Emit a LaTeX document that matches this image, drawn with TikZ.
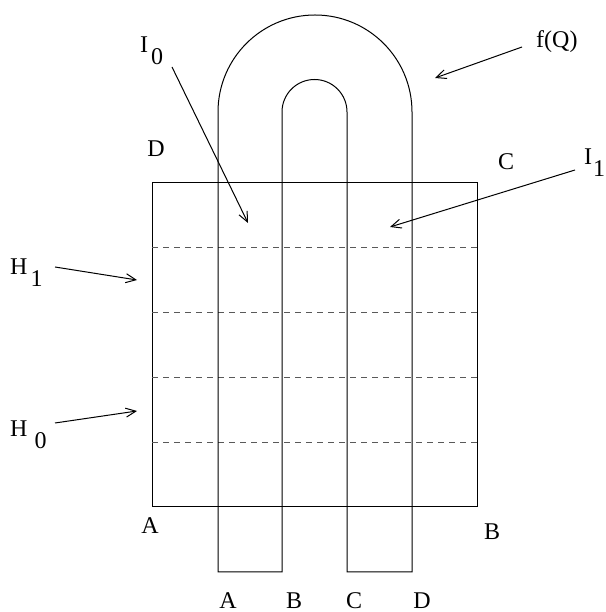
\documentclass[tikz,border=0pt]{standalone}
\usepackage{fontspec}
\setmainfont{Liberation Serif}
\usetikzlibrary{arrows.meta}
\begin{document}
\begin{tikzpicture}[x=1pt,y=1pt,
  lbl/.style={inner sep=0pt,font=\fontsize{24}{28}\selectfont},
  outl/.style={line width=1pt},
  gridln/.style={line width=0.9pt,draw=black!65,dash pattern=on 6pt off 5pt},
  ptr/.style={line width=1pt,-{Straight Barb[length=10pt,width=9pt,line width=1pt]}}]
\useasboundingbox (0,0) rectangle (605,612);
% square
\draw[outl] (152,105) rectangle (477,429);
% dashed lines
\foreach \y in {364.2,299.4,234.6,169.8}
  \draw[gridln] (152,\y) -- (477,\y);
% strip
\draw[outl] (218,40) -- (218,500) arc[start angle=180,end angle=0,radius=97]
  -- (412,40) -- (347,40) -- (347,500) arc[start angle=0,end angle=180,radius=32.5]
  -- (282,40) -- cycle;
% labels
\node[lbl,anchor=base west] (I0) at (140,559) {I\kern3pt\raisebox{-12pt}{0}};
\node[lbl,anchor=base west] (I1) at (584,447) {I\kern1pt\raisebox{-12pt}{1}};
\node[lbl,anchor=base west] (H1) at (10,337) {H\kern3pt\raisebox{-12pt}{1}};
\node[lbl,anchor=base west] (H0) at (10,175) {H\kern7pt\raisebox{-12pt}{0}};
\node[lbl,anchor=base west] (fQ) at (536,564) {f(Q)};
\node[lbl,anchor=base] (Dl) at (156,455) {D};
\node[lbl,anchor=base] (Cl) at (506,442) {C};
\node[lbl,anchor=base] (Al) at (150,78) {A};
\node[lbl,anchor=base] (Bl) at (492,72) {B};
\node[lbl,anchor=base] (Ab) at (228,4) {A};
\node[lbl,anchor=base] (Bb) at (294,4) {B};
\node[lbl,anchor=base] (Cb) at (354,4) {C};
\node[lbl,anchor=base] (Db) at (422,4) {D};
% arrow ends
\coordinate (i0t) at (172,545);
\coordinate (i0h) at (248,389);
\coordinate (i1t) at (575,442);
\coordinate (i1h) at (390,385);
\coordinate (h1t) at (55,345);
\coordinate (h1h) at (137,332);
\coordinate (h0t) at (55,189);
\coordinate (h0h) at (137,201);
\coordinate (fqt) at (522,565);
\coordinate (fqh) at (435,534);
\draw[ptr] (i0t) -- (i0h);
\draw[ptr] (i1t) -- (i1h);
\draw[ptr] (h1t) -- (h1h);
\draw[ptr] (h0t) -- (h0h);
\draw[ptr] (fqt) -- (fqh);
\end{tikzpicture}
\end{document}
